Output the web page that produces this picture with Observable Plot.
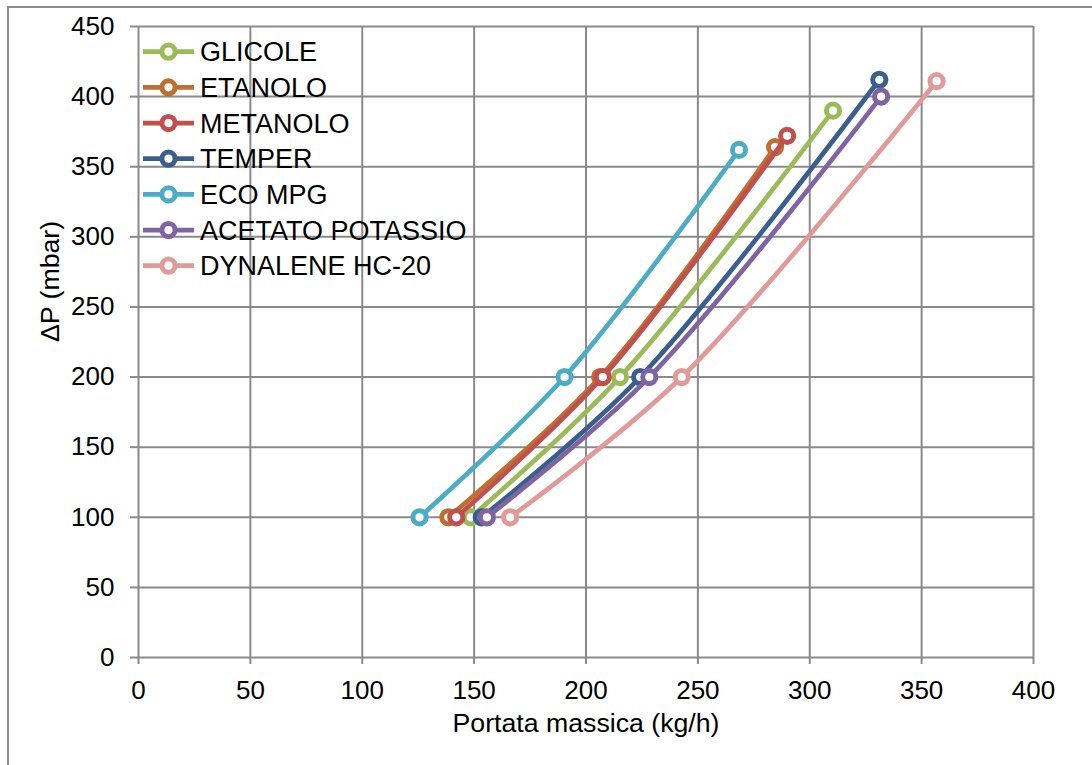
<!DOCTYPE html>
<html>
<head>
<meta charset="utf-8">
<script src="https://cdn.jsdelivr.net/npm/d3@7"></script>
<script src="https://cdn.jsdelivr.net/npm/@observablehq/plot@0.6"></script>
<style>
  html, body { margin: 0; padding: 0; background: #fff; }
  #chart { position: relative; width: 1092px; height: 765px; overflow: hidden; }
  #frame { position: absolute; left: 7px; top: 6px; width: 1300px; height: 1000px;
           border-left: 2px solid #8c8c8c; border-top: 2px solid #8c8c8c; }
  #chart svg { position: absolute; left: 0; top: 0; }
</style>
</head>
<body>
<div id="chart"><div id="frame"></div></div>
<script>
// Fluids and their curve colours
const fluids = ["GLICOLE", "ETANOLO", "METANOLO", "TEMPER", "ECO MPG", "ACETATO POTASSIO", "DYNALENE HC-20"];
const colors = ["#9bbb59", "#be6f2f", "#c0504d", "#3a5f8f", "#4bacc6", "#8064a2", "#e09a98"];

// Mass flow (kg/h) at each of the three measured pressure drops
const flowLow  = [148.5, 138.5, 142.0, 153.4, 125.6, 155.7, 166.1];
const flowMid  = [215.2, 206.3, 207.5, 224.2, 190.4, 228.3, 242.8];
const flowHigh = [310.4, 284.5, 289.9, 331.1, 268.4, 331.9, 356.7];

// Pressure drop (mbar)
const dpLow  = [100, 100, 100, 100, 100, 100, 100];
const dpMid  = [200, 200, 200, 200, 200, 200, 200];
const dpHigh = [390, 364, 372, 412, 362, 400, 411];

// Axis ticks and titles
const xTicks = [0, 50, 100, 150, 200, 250, 300, 350, 400];
const yTicks = [0, 50, 100, 150, 200, 250, 300, 350, 400, 450];
const xTitle = "Portata massica (kg/h)";
const yTitle = "ΔP (mbar)";

const rows = fluids.flatMap((fluid, i) => [
  {fluid, flow: flowLow[i],  dp: dpLow[i]},
  {fluid, flow: flowMid[i],  dp: dpMid[i]},
  {fluid, flow: flowHigh[i], dp: dpHigh[i]}
]);

const grid = {stroke: "#8a8a8a", strokeOpacity: 1, strokeWidth: 2};

// One line + its markers per fluid, in series order
const seriesMarks = fluids.flatMap(f => {
  const d = rows.filter(r => r.fluid === f);
  return [
    Plot.line(d, {x: "flow", y: "dp", stroke: "fluid", strokeWidth: 4.7, curve: "catmull-rom"}),
    Plot.dot(d, {x: "flow", y: "dp", stroke: "fluid", fill: "white", r: 6.6, strokeWidth: 5})
  ];
});

const chart = Plot.plot({
  width: 1092,
  height: 765,
  marginLeft: 138,
  marginRight: 59,
  marginTop: 26,
  marginBottom: 108,
  style: {fontFamily: "'Liberation Sans', Arial, sans-serif", fontSize: "26px", color: "#000", background: "transparent", overflow: "visible"},
  x: {domain: [0, 400]},
  y: {domain: [0, 450]},
  color: {domain: fluids, range: colors},
  marks: [
    Plot.gridX(xTicks, grid),
    Plot.gridY(yTicks, grid),
    Plot.axisX(xTicks, {tickSize: 7, tickPadding: 16, stroke: "#8a8a8a", strokeWidth: 2, fill: "#000", label: null}),
    Plot.axisY(yTicks, {tickSize: 8, tickPadding: 16, stroke: "#8a8a8a", strokeWidth: 2, fill: "#000", label: null}),
    ...seriesMarks,
    Plot.text([xTitle], {text: d => d, frameAnchor: "bottom", dy: 74, fontSize: 26.7, fill: "#000"}),
    Plot.text([yTitle], {text: d => d, frameAnchor: "left", dx: -88, rotate: -90, fontSize: 26.7, fill: "#000"})
  ]
});

document.getElementById("chart").appendChild(chart);

// Legend inside the plot area, top-left
const svg = d3.select(chart);
const legend = svg.append("g")
  .attr("font-family", "'Liberation Sans', Arial, sans-serif")
  .attr("font-size", 27)
  .attr("text-anchor", "start");
fluids.forEach((f, i) => {
  const cy = 51.7 + i * 35.67;
  const g = legend.append("g").attr("transform", `translate(0,${cy})`);
  g.append("line").attr("x1", 143).attr("x2", 194).attr("y1", 0).attr("y2", 0)
    .attr("stroke", colors[i]).attr("stroke-width", 4.7);
  g.append("circle").attr("cx", 168.5).attr("cy", 0).attr("r", 6.6)
    .attr("fill", "white").attr("stroke", colors[i]).attr("stroke-width", 5);
  g.append("text").attr("x", 200).attr("y", 0).attr("dy", "0.36em")
    .attr("text-anchor", "start").attr("fill", "#000").text(f);
});
</script>
</body>
</html>
